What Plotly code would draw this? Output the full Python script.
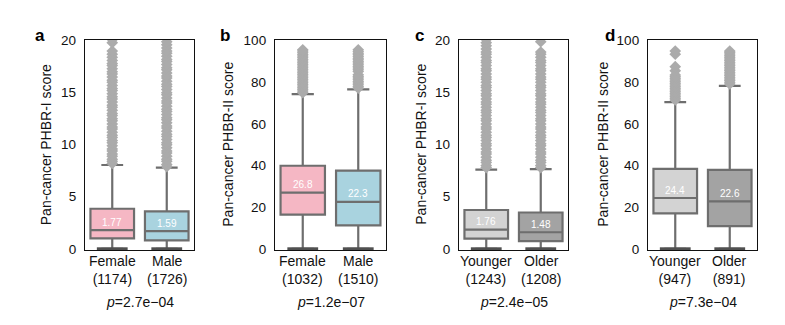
import plotly.graph_objects as go

# ---------------- data ----------------
panel_letters = ["a", "b", "c", "d"]
y_titles = ["Pan-cancer PHBR-I score", "Pan-cancer PHBR-II score",
            "Pan-cancer PHBR-I score", "Pan-cancer PHBR-II score"]
categories = [["Female", "Male"], ["Female", "Male"], ["Younger", "Older"], ["Younger", "Older"]]
counts = [["1174", "1726"], ["1032", "1510"], ["1243", "1208"], ["947", "891"]]
p_values = ["2.7e\u221204", "1.2e\u221207", "2.4e\u221205", "7.3e\u221204"]
median_labels = [["1.77", "1.59"], ["26.8", "22.3"], ["1.76", "1.48"], ["24.4", "22.6"]]

q1 = [[1.0, 0.8], [16.4, 11.3], [0.98, 0.73], [17.0, 10.9]]
medians = [[1.8, 1.7], [27.0, 22.5], [1.85, 1.59], [24.4, 22.8]]
q3 = [[3.85, 3.6], [39.9, 37.6], [3.73, 3.49], [38.4, 37.9]]
lower_fence = [[0, 0], [0, 0], [0, 0], [0, 0]]
upper_fence = [[8.05, 7.8], [74.3, 76.6], [7.6, 7.65], [70.5, 78.3]]

a_female_out = [8.2, 8.4, 8.6, 8.9, 9.1, 9.4, 9.6, 9.9, 10.2, 10.4, 10.7, 10.9, 11.2, 11.5,
                11.7, 12.0, 12.3, 12.5, 12.8, 13.0, 13.3, 13.6, 13.8, 14.1, 14.4, 14.6, 14.9,
                15.2, 15.4, 15.7, 16.0, 16.2, 16.5, 16.8, 17.0, 17.3, 17.6, 17.8, 18.1, 18.4,
                18.7, 19.0, 19.8, 20.1]
a_male_out = [7.9, 8.1, 8.4, 8.6, 8.9, 9.2, 9.4, 9.7, 10.0, 10.2, 10.5, 10.8, 11.0, 11.3,
              11.6, 11.8, 12.1, 12.4, 12.6, 12.9, 13.2, 13.4, 13.7, 14.0, 14.2, 14.5, 14.8,
              15.0, 15.3, 15.6, 15.8, 16.1, 16.4, 16.6, 16.9, 17.2, 17.4, 17.7, 18.0, 18.2,
              18.5, 18.8, 19.0, 19.3, 19.6, 19.9, 20.2]
b_female_out = [75.0, 75.8, 76.6, 77.4, 78.2, 79.0, 79.8, 80.6, 81.4, 82.2, 83.0, 83.8, 84.6,
                85.4, 86.2, 87.0, 87.8, 88.6, 89.4, 90.2, 91.0, 91.8, 92.6, 93.4, 94.2, 95.0,
                95.6]
b_male_out = [77.2, 78.0, 78.8, 79.6, 80.4, 81.2, 82.0, 82.8, 83.6, 85.2, 86.0, 86.8, 87.6,
              88.4, 89.2, 90.0, 90.8, 91.6, 92.4, 93.2, 94.0, 94.8, 95.6]
c_younger_out = [7.8, 8.0, 8.3, 8.5, 8.8, 9.1, 9.3, 9.6, 9.9, 10.1, 10.4, 10.7, 10.9, 11.2,
                 11.5, 11.7, 12.0, 12.3, 12.5, 12.8, 13.1, 13.3, 13.6, 13.9, 14.1, 14.4, 14.7,
                 14.9, 15.2, 15.5, 15.7, 16.0, 16.3, 16.5, 16.8, 17.1, 17.3, 17.6, 17.9, 18.1,
                 18.4, 18.7, 18.9, 19.2, 19.5, 19.8, 20.1]
c_older_out = [7.8, 8.0, 8.3, 8.5, 8.8, 9.1, 9.3, 9.6, 9.9, 10.1, 10.4, 10.7, 10.9, 11.2,
               11.5, 11.7, 12.0, 12.3, 12.5, 12.8, 13.1, 13.3, 13.6, 13.9, 14.1, 14.4, 14.7,
               14.9, 15.2, 15.5, 15.7, 16.0, 16.3, 16.5, 16.8, 17.1, 17.3, 17.6, 17.9, 18.1,
               18.4, 18.7, 18.9, 19.9]
d_younger_out = [71.5, 72.3, 73.1, 73.9, 74.7, 75.5, 76.3, 77.1, 77.9, 78.7, 79.5, 80.3,
                 81.1, 81.9, 82.7, 83.5, 85.5, 87.5, 93.5, 95.0]
d_older_out = [79.2, 80.0, 80.8, 81.6, 82.4, 83.2, 84.0, 84.8, 85.6, 86.4, 87.2, 88.0, 88.8,
               89.6, 90.4, 91.2, 92.0, 92.8, 93.6, 94.4, 95.0]
outliers = [[a_female_out, a_male_out], [b_female_out, b_male_out],
            [c_younger_out, c_older_out], [d_younger_out, d_older_out]]

y_max = [20, 100, 20, 100]
y_tickvals = [[0, 5, 10, 15, 20], [0, 20, 40, 60, 80, 100],
              [0, 5, 10, 15, 20], [0, 20, 40, 60, 80, 100]]

# ---------------- styles ----------------
fills = [["#f5b7c4", "#a9d3df"], ["#f5b7c4", "#a9d3df"],
         ["#d3d3d3", "#a3a3a3"], ["#d3d3d3", "#a3a3a3"]]
line_col = "#6e6e6e"
out_col = "#ababab"
FONT = "Liberation Sans, Arial, sans-serif"
W, H = 785, 325
frame_px = [(85, 194), (275, 386), (459, 568), (648, 757)]
ytitle_px = [45.5, 228, 421, 603]
letter_px = [40, 225, 419, 610]
y_top_px, y_bot_px = 35, 254
ydom = [1 - y_bot_px / H, 1 - y_top_px / H]


def ann(**kw):
    d = dict(showarrow=False, xanchor="center", yanchor="middle")
    d.update(kw)
    return d


fig = go.Figure()
annotations = []
for i in range(4):
    ax = "" if i == 0 else str(i + 1)
    xref, yref = "x" + ax, "y" + ax
    for j in range(2):
        fig.add_trace(go.Box(
            x=[j], q1=[q1[i][j]], median=[medians[i][j]], q3=[q3[i][j]],
            lowerfence=[lower_fence[i][j]], upperfence=[upper_fence[i][j]],
            width=0.8, whiskerwidth=0.5, fillcolor=fills[i][j],
            line=dict(color=line_col, width=2.2), boxpoints=False,
            xaxis=xref, yaxis=yref, showlegend=False, hoverinfo="skip"))
        # darker cap at the lower fence
        fig.add_trace(go.Scatter(
            x=[j], y=[lower_fence[i][j]], mode="markers",
            marker=dict(symbol="line-ew", size=22, color="#505050",
                        line=dict(color="#505050", width=3)),
            xaxis=xref, yaxis=yref, showlegend=False, hoverinfo="skip", cliponaxis=False))
        fig.add_trace(go.Scatter(
            x=[j] * len(outliers[i][j]), y=outliers[i][j], mode="markers",
            marker=dict(symbol="diamond", size=9, color=out_col, line=dict(width=0)),
            xaxis=xref, yaxis=yref, showlegend=False, hoverinfo="skip", cliponaxis=True))
        annotations.append(ann(
            x=j, y=medians[i][j], xref=xref, yref=yref, text=median_labels[i][j],
            yshift=8, font=dict(family=FONT, size=10, color="white")))
        cx = frame_px[i][0] + (frame_px[i][1] - frame_px[i][0]) * (0.25 + 0.5 * j)
        annotations.append(ann(
            x=cx / W, y=1 - 275 / H, xref="paper", yref="paper",
            text=categories[i][j] + "<br>(" + counts[i][j] + ")",
            font=dict(family=FONT, size=14, color="#111"), align="center"))
    mid = (frame_px[i][0] + frame_px[i][1]) / 2
    annotations.append(ann(
        x=mid / W, y=1 - 308 / H, xref="paper", yref="paper",
        text="<i>p</i>=" + p_values[i],
        font=dict(family=FONT, size=14, color="#111")))
    annotations.append(ann(
        x=ytitle_px[i] / W, y=1 - 144.5 / H, xref="paper", yref="paper",
        text=y_titles[i], textangle=-90,
        font=dict(family=FONT, size=14, color="#111")))
    annotations.append(ann(
        x=letter_px[i] / W, y=1 - 31 / H, xref="paper", yref="paper",
        text="<b>" + panel_letters[i] + "</b>",
        font=dict(family=FONT, size=17, color="#000")))
    pad = y_max[i] * 0.005
    fig.update_layout(**{
        "xaxis" + ax: dict(domain=[frame_px[i][0] / W, frame_px[i][1] / W],
                           range=[-0.5, 1.5], showticklabels=False, ticks="",
                           showgrid=False, zeroline=False, showline=True, mirror=True,
                           linecolor="#111", linewidth=1.3, anchor=yref,
                           fixedrange=True),
        "yaxis" + ax: dict(domain=ydom, range=[-pad, y_max[i] + pad],
                           tickvals=y_tickvals[i], ticks="", ticklabelstandoff=5,
                           showgrid=False, zeroline=False, showline=True, mirror=True,
                           linecolor="#111", linewidth=1.3, anchor=xref,
                           tickfont=dict(family=FONT, size=13.5, color="#111"),
                           fixedrange=True),
    })

fig.update_layout(
    width=W, height=H, margin=dict(l=0, r=0, t=0, b=0),
    paper_bgcolor="white", plot_bgcolor="white",
    annotations=annotations, showlegend=False,
)
fig.write_html("out.html")
